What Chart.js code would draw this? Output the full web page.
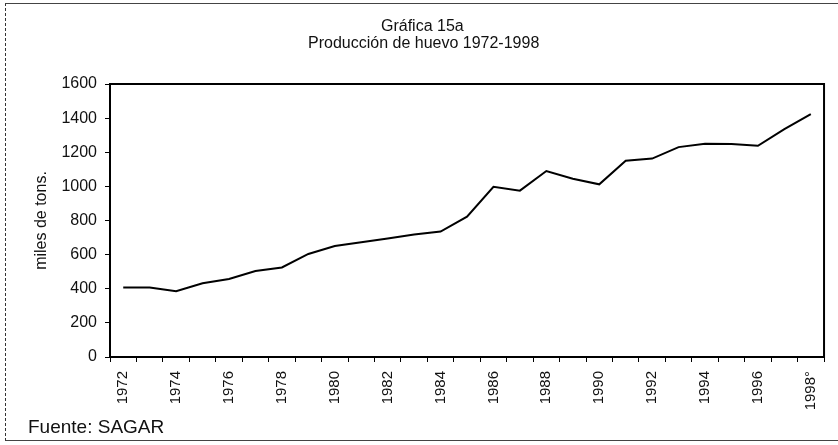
<!DOCTYPE html>
<html>
<head>
<meta charset="utf-8">
<script src="https://cdn.jsdelivr.net/npm/chart.js@4/dist/chart.umd.min.js"></script>
<style>
  html, body { margin: 0; padding: 0; background: #fff; overflow: hidden; }
  #wrap { position: relative; width: 838px; height: 445px; }
  #frame { position: absolute; left: 5px; top: 3px; width: 900px; height: 436px;
           border-left: 1px dashed #333; border-top: 1px solid #444; border-bottom: 1px solid #444; }
  canvas { position: absolute; left: 0; top: 0; }
</style>
</head>
<body>
<div id="wrap">
  <div id="frame"></div>
  <canvas id="c" width="838" height="445"></canvas>
</div>
<script>
const titleLines = ['Gráfica 15a', 'Producción de huevo 1972-1998'];
const sourceNote = 'Fuente: SAGAR';
const yAxisTitle = 'miles de tons.';
const years = ['1972','1973','1974','1975','1976','1977','1978','1979','1980','1981','1982','1983','1984','1985',
               '1986','1987','1988','1989','1990','1991','1992','1993','1994','1995','1996','1997','1998°'];
const production = [408, 408, 386, 432, 457, 504, 525, 604, 650, 672, 695, 718, 735, 822,
                    998, 975, 1090, 1045, 1012, 1150, 1163, 1230, 1250, 1248, 1238, 1335, 1424];

const textPlugin = {
  id: 'texts',
  afterDraw(chart) {
    const ctx = chart.ctx;
    const a = chart.chartArea;
    ctx.save();
    ctx.strokeStyle = '#000';
    ctx.lineWidth = 2;
    ctx.strokeRect(a.left, a.top, a.right - a.left, a.bottom - a.top);
    ctx.fillStyle = '#111';
    ctx.textBaseline = 'alphabetic';
    ctx.textAlign = 'left';
    ctx.font = '16px "Liberation Sans", Arial, sans-serif';
    ctx.fillText(titleLines[0], 381, 31);
    ctx.fillText(titleLines[1], 308, 48);
    ctx.font = '19px "Liberation Sans", Arial, sans-serif';
    ctx.fillText(sourceNote, 28, 433);
    ctx.restore();
  }
};

new Chart(document.getElementById('c'), {
  type: 'line',
  data: {
    labels: years,
    datasets: [{
      data: production,
      borderColor: '#000',
      borderWidth: 2,
      pointRadius: 0,
      tension: 0,
      fill: false
    }]
  },
  options: {
    responsive: false,
    animation: false,
    layout: { padding: { left: 0, right: 10, top: 84, bottom: 0 } },
    plugins: { legend: { display: false }, tooltip: { enabled: false }, title: { display: false } },
    scales: {
      x: {
        offset: true,
        grid: { offset: true, drawOnChartArea: false, color: '#000', tickLength: 5, lineWidth: 1 },
        border: { color: '#000', width: 2 },
        ticks: {
          autoSkip: false, maxRotation: 90, minRotation: 90, padding: 9,
          color: '#111', font: { family: '"Liberation Sans", Arial, sans-serif', size: 15 },
          callback: function(v, i) { return i % 2 === 0 ? this.getLabelForValue(v) : ''; }
        },
        afterFit(scale) { scale.height = 88; }
      },
      y: {
        min: 0, max: 1600,
        grid: { drawOnChartArea: false, color: '#000', tickLength: 5 },
        border: { color: '#000', width: 2 },
        ticks: { stepSize: 200, padding: 8, color: '#111',
                 font: { family: '"Liberation Sans", Arial, sans-serif', size: 16 },
                 callback: (v) => String(v) },
        title: { display: true, text: yAxisTitle, color: '#111', padding: { top: 32, bottom: 0 },
                 font: { family: '"Liberation Sans", Arial, sans-serif', size: 16 } },
        afterFit(scale) { scale.width = 110; }
      }
    }
  },
  plugins: [textPlugin]
});
</script>
</body>
</html>
